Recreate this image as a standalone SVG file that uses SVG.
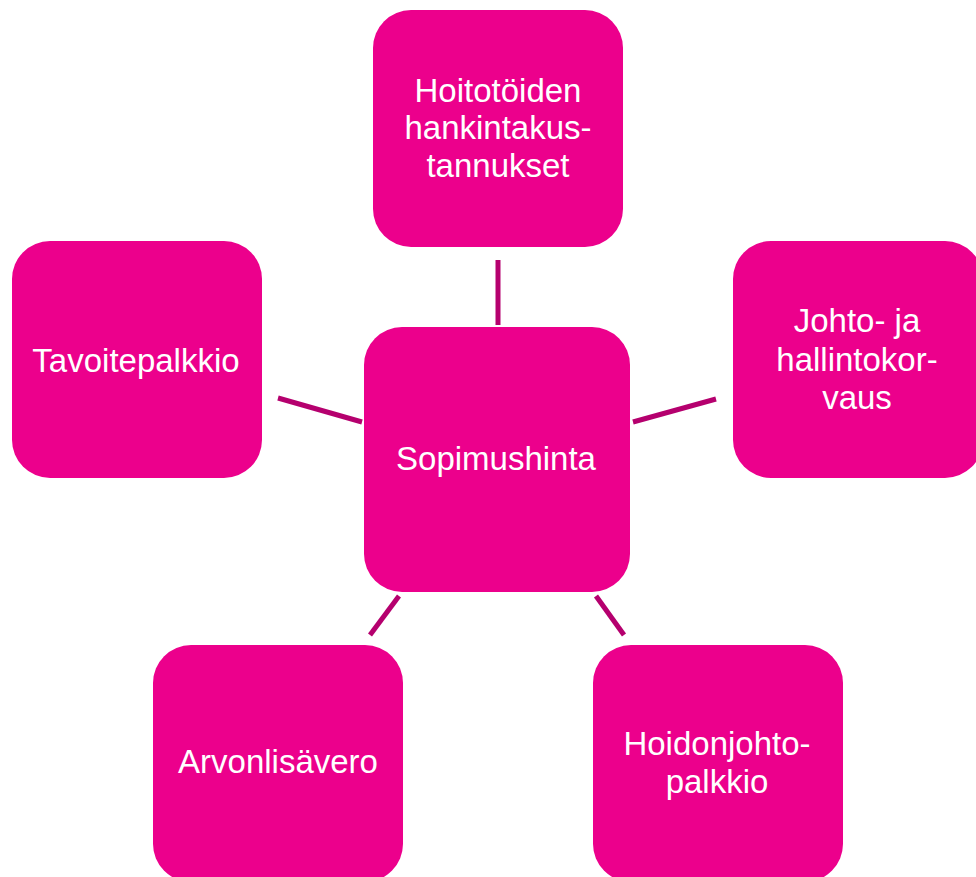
<svg xmlns="http://www.w3.org/2000/svg" width="976" height="877" viewBox="0 0 976 877">
<style>
.box{fill:#EC008C}
.t{fill:#FFFFFF;font-family:"Liberation Sans",Arial,sans-serif;font-size:33px;text-anchor:middle}
.c{stroke:#B5006E;stroke-width:5;fill:none}
</style>
<rect width="976" height="877" fill="#FFFFFF"/>
<g id="connectors">
<line class="c" x1="498" y1="260" x2="498" y2="325"/>
<line class="c" x1="278" y1="398" x2="362" y2="422"/>
<line class="c" x1="633" y1="422" x2="716" y2="399"/>
<line class="c" x1="399" y1="596" x2="370" y2="635"/>
<line class="c" x1="596" y1="596" x2="624" y2="635"/>
</g>
<g id="node-center">
<rect class="box" x="364" y="327" width="266" height="265" rx="38"/>
<text class="t" x="496" y="470">Sopimushinta</text>
</g>
<g id="node-top">
<rect class="box" x="373" y="10" width="250" height="237" rx="38"/>
<text class="t" x="498" y="102">Hoitotöiden</text>
<text class="t" x="498" y="139">hankintakus-</text>
<text class="t" x="498" y="177">tannukset</text>
</g>
<g id="node-left">
<rect class="box" x="12" y="241" width="250" height="237" rx="38"/>
<text class="t" x="136" y="372">Tavoitepalkkio</text>
</g>
<g id="node-right">
<rect class="box" x="733" y="241" width="250" height="237" rx="38"/>
<text class="t" x="857" y="332">Johto- ja</text>
<text class="t" x="857" y="371">hallintokor-</text>
<text class="t" x="857" y="409">vaus</text>
</g>
<g id="node-bottom-left">
<rect class="box" x="153" y="645" width="250" height="237" rx="38"/>
<text class="t" x="278" y="773">Arvonlisävero</text>
</g>
<g id="node-bottom-right">
<rect class="box" x="593" y="645" width="250" height="237" rx="38"/>
<text class="t" x="717" y="755">Hoidonjohto-</text>
<text class="t" x="717" y="793">palkkio</text>
</g>
</svg>
